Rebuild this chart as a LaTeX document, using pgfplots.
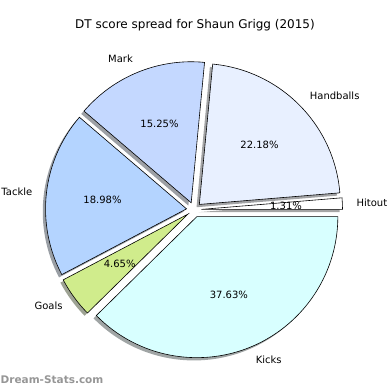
\documentclass[border=0pt]{standalone}
\usepackage{pgfplots}
\usepackage{pgfplotstable}
\pgfplotsset{compat=1.18}
\usepackage{fontspec}
\setmainfont{DejaVu Sans}

\definecolor{cHit}{RGB}{255,255,255}
\definecolor{cHand}{RGB}{232,240,255}
\definecolor{cMark}{RGB}{196,216,255}
\definecolor{cTack}{RGB}{180,212,255}
\definecolor{cGoal}{RGB}{208,236,140}
\definecolor{cKick}{RGB}{216,255,255}
\definecolor{wm}{RGB}{150,150,150}

\newcommand\labfont{\fontsize{10bp}{12bp}\selectfont}
\newcommand\titlefont{\fontsize{12bp}{14bp}\selectfont}

\pgfplotstableread{
label pct col
Hitout 1.31 cHit
Handballs 22.18 cHand
Mark 15.25 cMark
Tackle 18.98 cTack
Goals 4.65 cGoal
Kicks 37.63 cKick
}\datatable

\def\CX{194}
\def\CY{180.3}
\def\EXP{7.5}
\def\RR{141}

\newcommand\getrow[1]{%
  \pgfplotstablegetelem{#1}{pct}\of\datatable \let\pct\pgfplotsretval
  \pgfplotstablegetelem{#1}{col}\of\datatable \let\col\pgfplotsretval
  \pgfplotstablegetelem{#1}{label}\of\datatable \let\lab\pgfplotsretval
  \pgfmathsetmacro\endang{\startang+3.6*\pct}%
  \pgfmathsetmacro\midang{(\startang+\endang)/2}%
  \pgfmathsetmacro\cx{\CX+\EXP*cos(\midang)}%
  \pgfmathsetmacro\cy{\CY+\EXP*sin(\midang)}%
}

\begin{document}
\begin{tikzpicture}
\useasboundingbox (0,0) rectangle (390bp,390bp);
\begin{axis}[at={(0,0)}, anchor=south west, scale only axis,
  width=390bp, height=390bp, xmin=0, xmax=390, ymin=0, ymax=390,
  hide axis, clip=false]
% shadows
\gdef\startang{0}
\pgfplotsforeachungrouped \i in {0,...,5}{%
  \getrow{\i}%
  \pgfmathsetmacro\sx{\cx-2.8}%
  \pgfmathsetmacro\sy{\cy-2.8}%
  \edef\temp{\noexpand\fill[fill=\col!30!black, opacity=0.5]
    (axis cs:\sx,\sy) -- ++(\startang:\RR bp)
    arc[start angle=\startang, end angle=\endang, radius=\RR bp] -- cycle;}%
  \temp
  \global\let\startang\endang
}
% wedges and texts
\gdef\startang{0}
\pgfplotsforeachungrouped \i in {0,...,5}{%
  \getrow{\i}%
  \pgfmathsetmacro\px{\cx+0.6*\RR*cos(\midang)}%
  \pgfmathsetmacro\py{\cy+0.6*\RR*sin(\midang)}%
  \pgfmathsetmacro\lx{\cx+1.1*\RR*cos(\midang)}%
  \pgfmathsetmacro\ly{\cy+1.1*\RR*sin(\midang)}%
  \pgfmathsetmacro\cm{cos(\midang)}%
  \ifdim\cm pt>0pt \def\anc{west}\else\def\anc{east}\fi
  \edef\temp{\noexpand\filldraw[fill=\col, draw=black, line width=0.6bp]
    (axis cs:\cx,\cy) -- ++(\startang:\RR bp)
    arc[start angle=\startang, end angle=\endang, radius=\RR bp] -- cycle;
    \noexpand\node[font=\noexpand\labfont, inner sep=0pt] at (axis cs:\px,\py) {\pct\noexpand\%};
    \noexpand\node[font=\noexpand\labfont, inner sep=0pt, anchor=\anc] at (axis cs:\lx,\ly) {\lab};}%
  \temp
  \global\let\startang\endang
}
\node[font=\titlefont] at (axis cs:195,364.5) {DT score spread for Shaun Grigg (2015)};
\node[font=\fontsize{10.5bp}{12bp}\selectfont\bfseries, text=wm, anchor=west, inner sep=0pt] at (axis cs:0.5,10.5) {Dream-Stats.com};
\end{axis}
\end{tikzpicture}
\end{document}
